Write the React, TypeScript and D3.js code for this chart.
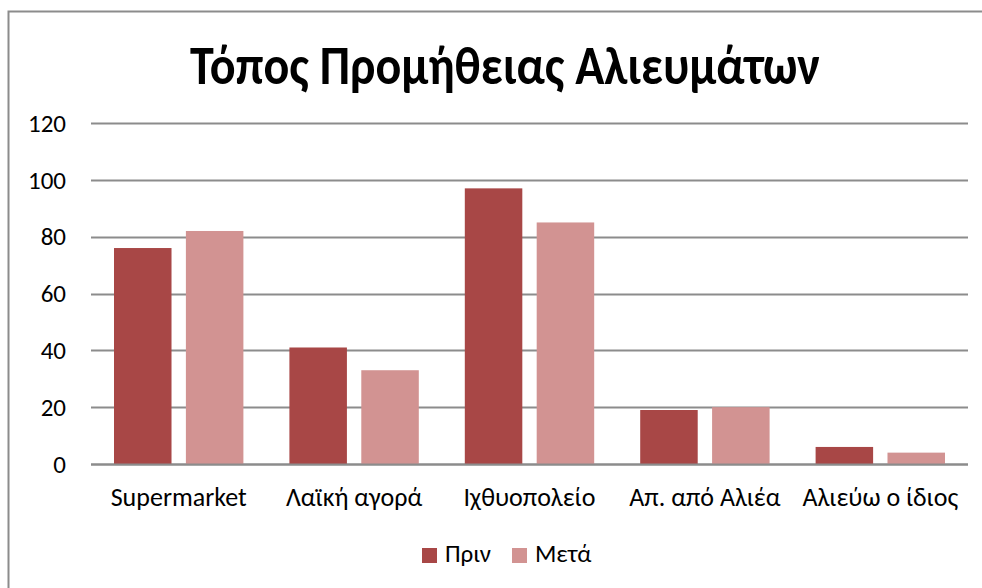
import React, { useEffect, useRef } from "react";
import * as d3 from "d3";

const title = "Τόπος Προμήθειας Αλιευμάτων";
const categories = ["Supermarket", "Λαϊκή αγορά", "Ιχθυοπολείο", "Απ. από Αλιέα", "Αλιεύω ο ίδιος"];
const seriesNames = ["Πριν", "Μετά"];
const before = [76, 41, 97, 19, 6];
const after = [82, 33, 85, 20, 4];
const yTicks = [0, 20, 40, 60, 80, 100, 120];
const colors = ["#A84746", "#D29392"];

const App: React.FC = () => {
  const svgRef = useRef<SVGSVGElement>(null);

  useEffect(() => {
    if (!svgRef.current) return;
    const width = 982;
    const height = 588;
    const margin = { top: 123, right: 14, bottom: 124, left: 91 };
    const font = "Calibri, Carlito, 'Open Sans', sans-serif";

    const svg = d3.select(svgRef.current);
    svg.selectAll("*").remove();
    svg.attr("width", width).attr("height", height).attr("viewBox", `0 0 ${width} ${height}`);

    svg.append("rect").attr("width", width).attr("height", height).attr("fill", "#fff");
    // chart border
    svg
      .append("path")
      .attr("d", `M8.5,${height} V11.5 H${width}`)
      .attr("fill", "none")
      .attr("stroke", "#8c8c8c")
      .attr("stroke-width", 2);

    svg
      .append("text")
      .attr("x", 505)
      .attr("y", 84)
      .attr("text-anchor", "middle")
      .attr("font-family", font)
      .attr("font-weight", "bold")
      .attr("font-size", 54)
      .attr("textLength", 630)
      .attr("lengthAdjust", "spacingAndGlyphs")
      .text(title);

    const x = d3
      .scaleBand()
      .domain(categories)
      .range([margin.left, width - margin.right]);

    const inner = d3
      .scaleBand()
      .domain(seriesNames)
      .range([0, x.bandwidth()])
      .paddingInner(0.2)
      .paddingOuter(0.32);

    const y = d3
      .scaleLinear()
      .domain([0, 120])
      .range([height - margin.bottom, margin.top]);

    // gridlines
    svg
      .append("g")
      .selectAll("line")
      .data(yTicks)
      .join("line")
      .attr("x1", margin.left)
      .attr("x2", width - margin.right)
      .attr("y1", (d) => Math.round(y(d)) + 0.5)
      .attr("y2", (d) => Math.round(y(d)) + 0.5)
      .attr("stroke", "#8c8c8c")
      .attr("stroke-width", 2);

    svg
      .append("g")
      .selectAll("text")
      .data(yTicks)
      .join("text")
      .attr("x", 66)
      .attr("y", (d) => y(d))
      .attr("dy", "0.35em")
      .attr("text-anchor", "end")
      .attr("font-family", font)
      .attr("font-size", 25)
      .attr("fill", "#000")
      .text((d) => d);

    const series = [before, after];
    series.forEach((vals, si) => {
      svg
        .append("g")
        .selectAll("rect")
        .data(vals)
        .join("rect")
        .attr("x", (_, i) => (x(categories[i]) ?? 0) + (inner(seriesNames[si]) ?? 0))
        .attr("width", inner.bandwidth())
        .attr("y", (d) => y(d))
        .attr("height", (d) => y(0) - y(d))
        .attr("fill", colors[si]);
    });

    // baseline over bars
    svg
      .append("line")
      .attr("x1", margin.left)
      .attr("x2", width - margin.right)
      .attr("y1", Math.round(y(0)) + 0.5)
      .attr("y2", Math.round(y(0)) + 0.5)
      .attr("stroke", "#8c8c8c")
      .attr("stroke-width", 2);

    svg
      .append("g")
      .selectAll("text")
      .data(categories)
      .join("text")
      .attr("x", (d) => (x(d) ?? 0) + x.bandwidth() / 2)
      .attr("y", 506)
      .attr("text-anchor", "middle")
      .attr("font-family", font)
      .attr("font-size", 26)
      .attr("fill", "#000")
      .text((d) => d);

    const legend = svg.append("g");
    const legendX = [422, 512];
    seriesNames.forEach((name, i) => {
      legend
        .append("rect")
        .attr("x", legendX[i])
        .attr("y", 548)
        .attr("width", 15)
        .attr("height", 15)
        .attr("fill", colors[i]);
      legend
        .append("text")
        .attr("x", legendX[i] + 23)
        .attr("y", 562)
        .attr("font-family", font)
        .attr("font-size", 25)
        .attr("fill", "#000")
        .text(name);
    });
  }, []);

  return (
    <div style={{ position: "absolute", left: 0, top: 0 }}>
      <svg ref={svgRef} />
    </div>
  );
};

export default App;
